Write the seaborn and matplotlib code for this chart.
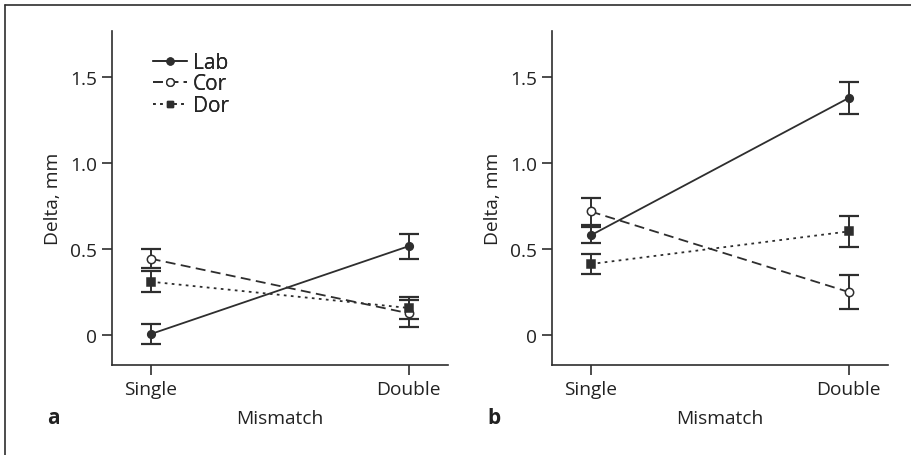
import matplotlib
matplotlib.use("Agg")
import matplotlib.pyplot as plt
import seaborn as sns
import pandas as pd
from matplotlib.lines import Line2D
from matplotlib.ticker import FuncFormatter

# ---- data ----
categories = ["Single", "Double"]
series = ["Lab", "Cor", "Dor"]

a_lab = [0.005, 0.517]
a_lab_err = [0.060, 0.072]
a_cor = [0.444, 0.126]
a_cor_err = [0.057, 0.077]
a_dor = [0.310, 0.157]
a_dor_err = [0.060, 0.066]

b_lab = [0.580, 1.380]
b_lab_err = [0.047, 0.094]
b_cor = [0.719, 0.250]
b_cor_err = [0.077, 0.098]
b_dor = [0.413, 0.603]
b_dor_err = [0.060, 0.092]

panel_labels = ["a", "b"]
yticks = [0, 0.5, 1.0, 1.5]
xlabel = "Mismatch"
ylabel = "Delta, mm"

panels = [
    {"Lab": (a_lab, a_lab_err), "Cor": (a_cor, a_cor_err), "Dor": (a_dor, a_dor_err)},
    {"Lab": (b_lab, b_lab_err), "Cor": (b_cor, b_cor_err), "Dor": (b_dor, b_dor_err)},
]

# ---- style ----
sns.set_theme(style="ticks")
plt.rcParams["font.family"] = ["Open Sans", "DejaVu Sans"]
ink = "#2e2e2e"
lw = 1.3
styles = {
    "Lab": dict(marker="o", mfc=ink, ms=5.5, dashes=()),
    "Cor": dict(marker="o", mfc="white", ms=6.0, dashes=(5.5, 3.0)),
    "Dor": dict(marker="s", mfc=ink, ms=5.3, dashes=(1.5, 2.4)),
}

fig = plt.figure(figsize=(9.12, 4.56), dpi=100)
W, H = 912, 456
axes_px = [(112, 32, 448, 366), (552, 32, 888, 366)]

for i, (data, (l, t, r, b)) in enumerate(zip(panels, axes_px)):
    ax = fig.add_axes([l / W, 1 - b / H, (r - l) / W, (b - t) / H])
    handles = []
    for name in series:
        vals, errs = data[name]
        st = styles[name]
        df = pd.DataFrame({"Mismatch": categories, "Delta": vals})
        ax.errorbar(categories, vals, yerr=errs, fmt="none", ecolor=ink,
                    elinewidth=1.4, capsize=7, capthick=1.6, zorder=2)
        kw = {}
        if st["dashes"]:
            kw["dashes"] = st["dashes"]
        sns.lineplot(data=df, x="Mismatch", y="Delta", ax=ax, color=ink,
                     linewidth=lw, marker=st["marker"], markersize=st["ms"],
                     markerfacecolor=st["mfc"], markeredgecolor=ink,
                     markeredgewidth=1.1, sort=False, zorder=3, **kw)
        h = Line2D([], [], color=ink, lw=lw, marker=st["marker"],
                   ms=st["ms"] - 0.5, mfc=st["mfc"], mec=ink, mew=1.0,
                   **({"dashes": st["dashes"]} if st["dashes"] else {}))
        handles.append(h)

    ax.set_xlim(-0.15, 1.152)
    ax.set_ylim(-0.175, 1.77)
    ax.set_yticks(yticks)
    ax.yaxis.set_major_formatter(FuncFormatter(lambda v, p: "0" if v == 0 else f"{v:.1f}"))
    for s in ["top", "right"]:
        ax.spines[s].set_visible(False)
    for s in ["left", "bottom"]:
        ax.spines[s].set_color(ink)
        ax.spines[s].set_linewidth(1.2)
    ax.tick_params(axis="both", colors=ink, labelcolor="#222222", labelsize=13.8,
                   length=7, width=1.2, pad=3.5)
    ax.set_xlabel(xlabel, fontsize=13.8, color="#222222", labelpad=8)
    ax.set_ylabel(ylabel, fontsize=13.8, color="#222222", labelpad=6)
    ax.legend(handles, series, loc="upper left",
              bbox_to_anchor=((155 - l) / (r - l) - 0.005, 1 - (53 - t) / (b - t)),
              frameon=False, fontsize=15, handlelength=1.6, handletextpad=0.3,
              labelspacing=0.02, borderpad=0, borderaxespad=0, numpoints=1)
    # panel letter
    fig.text((l - 65) / W, 1 - 419 / H, panel_labels[i], fontsize=15,
             fontweight="bold", ha="left", va="center", color="#222222")

# figure frame lines (top and left)
fig.add_artist(Line2D([5 / W, 1], [1 - 6 / H, 1 - 6 / H], color=ink, lw=1.2,
                      transform=fig.transFigure))
fig.add_artist(Line2D([5 / W, 5 / W], [0, 1 - 6 / H], color=ink, lw=1.2,
                      transform=fig.transFigure))

fig.savefig("out.png", dpi=100)
